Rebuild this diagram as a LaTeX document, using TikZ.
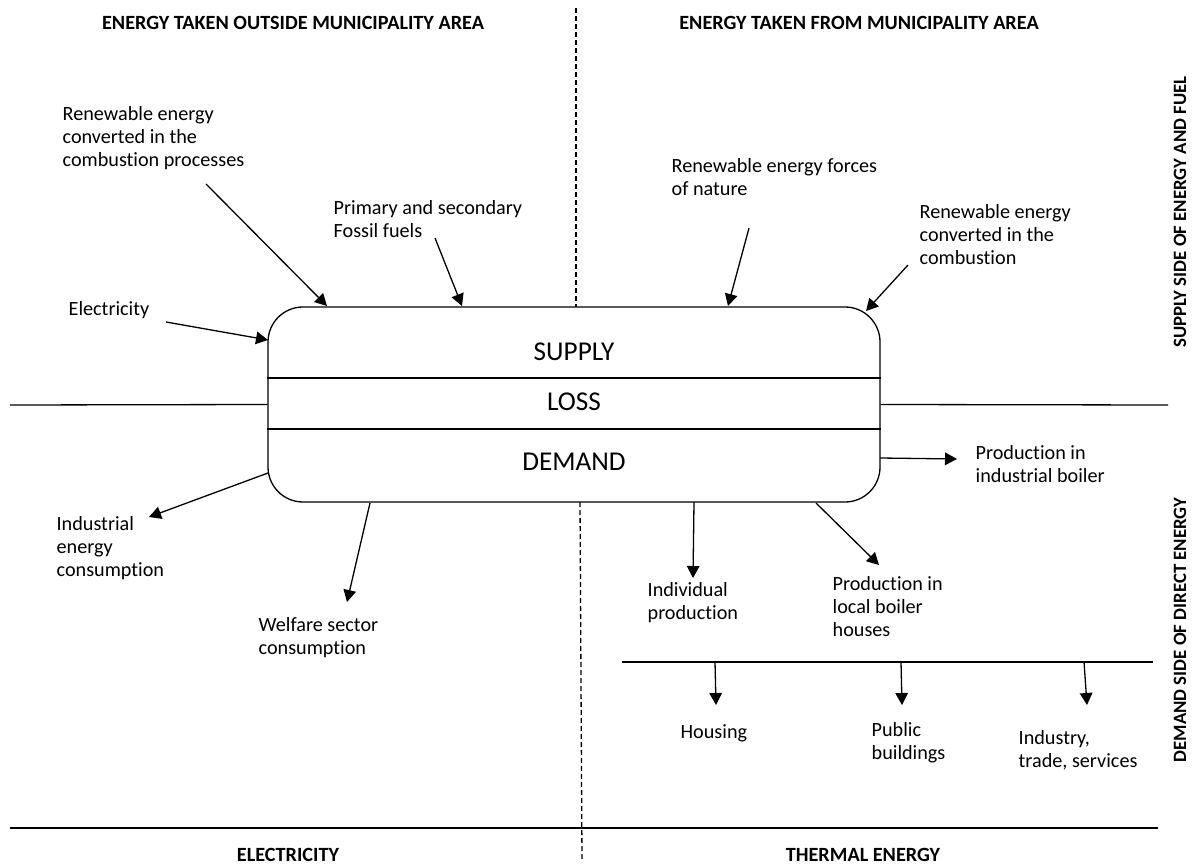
\documentclass[tikz,border=0pt]{standalone}
\usepackage{fontspec}
\setmainfont{Carlito}[Ligatures=NoCommon]
\usetikzlibrary{arrows.meta}

\begin{document}
\begin{tikzpicture}[x=0.5pt,y=-0.5pt,>={Triangle[length=6pt,width=6.3pt]},
                    line width=0.65pt]
  \tikzstyle{lbl}=[anchor=west,align=left,inner sep=0pt,font=\fontsize{10.1}{11.5}\selectfont]
  \tikzstyle{head}=[inner sep=0pt,font=\fontsize{10.1}{12}\selectfont\bfseries]
  \tikzstyle{side}=[inner sep=0pt,rotate=90,font=\fontsize{9.4}{11}\selectfont\bfseries]
  \tikzstyle{part}=[inner sep=0pt,font=\fontsize{13.6}{15}\selectfont]
  \tikzstyle{sep}=[dash pattern=on 2.5pt off 1.5pt]

  \useasboundingbox (0,0) rectangle (1192,865);

  % the balance box
  \node[draw,rounded corners=17.5pt,minimum width=306pt,minimum height=97.5pt,
        inner sep=0pt] (balance) at (574,404.5) {};
  \node[part] (supply) at (574,352) {SUPPLY};
  \node[part] (loss)   at (574,402) {LOSS};
  \node[part] (demand) at (574,462) {DEMAND};
  \draw (balance.west |- 0,378) -- (balance.east |- 0,378);
  \draw (balance.west |- 0,429) -- (balance.east |- 0,429);

  % frame lines
  \draw (10,405) -- (balance.west);
  \draw (balance.east) -- (1168,405);
  \draw[sep] (576,8) -- (576,307);
  \draw[sep] (580,502) -- (582,862);
  \draw (10,828) -- (1158,828);
  \draw (622,662) -- (1153,662);

  % headings
  \node[head] (outside) at (293,23) {ENERGY TAKEN OUTSIDE MUNICIPALITY AREA};
  \node[head] (inside)  at (859,23) {ENERGY TAKEN FROM MUNICIPALITY AREA};
  \node[head] (electr)  at (288,855) {ELECTRICITY};
  \node[head] (thermal) at (863,855) {THERMAL ENERGY};
  \node[side] (supside) at (1180,212) {SUPPLY SIDE OF ENERGY AND FUEL};
  \node[side] (demside) at (1180,630) {DEMAND SIDE OF DIRECT ENERGY};

  % supply side
  \node[lbl] (renout)  at (62,138)  {Renewable energy\\converted in the\\combustion processes};
  \node[lbl] (fossil)  at (333,219) {Primary and secondary\\Fossil fuels};
  \node[lbl] (elec)    at (68,310)  {Electricity};
  \node[lbl] (nature)  at (671,177) {Renewable energy forces\\of nature};
  \node[lbl] (renin)   at (919,235) {Renewable energy\\converted in the\\combustion};

  % demand side
  \node[lbl] (indcons) at (56,548)  {Industrial\\energy\\consumption};
  \node[lbl] (welfare) at (258,638) {Welfare sector\\consumption};
  \node[lbl] (indboil) at (975,464) {Production in\\industrial boiler};
  \node[lbl] (indiv)   at (647,603) {Individual\\production};
  \node[lbl] (local)   at (832,607) {Production in\\local boiler\\houses};
  \node[lbl] (housing) at (680,733) {Housing};
  \node[lbl] (public)  at (871,743) {Public\\buildings};
  \node[lbl] (trade)   at (1018,750) {Industry,\\trade, services};

  % arrow ends
  \coordinate (r1) at (206,184);  \coordinate (r1e) at (327,306);
  \coordinate (f1) at (435,238);  \coordinate (f1e) at (462,306);
  \coordinate (e1) at (166,322);  \coordinate (e1e) at (268,340);
  \coordinate (n1) at (749,228);  \coordinate (n1e) at (728,306);
  \coordinate (c1) at (908,265);  \coordinate (c1e) at (866,311);
  \coordinate (i1) at (268,473);  \coordinate (i1e) at (149,517);
  \coordinate (w1) at (370,503);  \coordinate (w1e) at (347,602);
  \coordinate (b1) at (880,458);  \coordinate (b1e) at (957,459);
  \coordinate (p1) at (694,502);  \coordinate (p1e) at (693,578);
  \coordinate (l1) at (816,503);  \coordinate (l1e) at (879,565);
  \coordinate (h1) at (715,662);  \coordinate (h1e) at (716,705);
  \coordinate (u1) at (901,662);  \coordinate (u1e) at (902,705);
  \coordinate (t1) at (1084,662); \coordinate (t1e) at (1087,705);

  \draw[->] (r1) -- (r1e);
  \draw[->] (f1) -- (f1e);
  \draw[->] (e1) -- (e1e);
  \draw[->] (n1) -- (n1e);
  \draw[->] (c1) -- (c1e);
  \draw[->] (i1) -- (i1e);
  \draw[->] (w1) -- (w1e);
  \draw[->] (b1) -- (b1e);
  \draw[->] (p1) -- (p1e);
  \draw[->] (l1) -- (l1e);
  \draw[->] (h1) -- (h1e);
  \draw[->] (u1) -- (u1e);
  \draw[->] (t1) -- (t1e);
\end{tikzpicture}
\end{document}
